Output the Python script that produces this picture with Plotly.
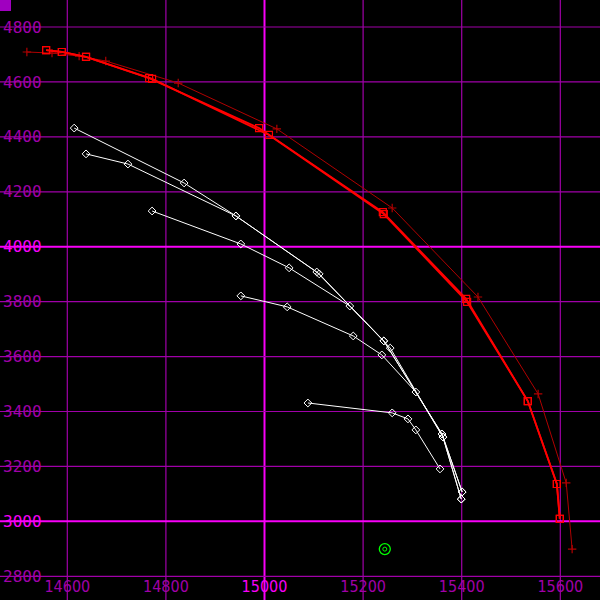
import plotly.graph_objects as go

# ---------------- data ----------------
# dark red "+" series
dk_x = [14518, 14569, 14624, 14678, 14825, 15025, 15259, 15433, 15555, 15612, 15624]
dk_y = [4709, 4705, 4694, 4676, 4596, 4429, 4141, 3817, 3464, 3140, 2899]

# bright red square series (two nearly coincident runs)
r1_x = [14557, 14589, 14638, 14766, 14989, 15240, 15409, 15534, 15593, 15599]
r1_y = [4716, 4709, 4691, 4614, 4432, 4126, 3810, 3438, 3136, 3009]
r2_x = [14557, 14589, 14638, 14772, 15009, 15242, 15411, 15534, 15593, 15599]
r2_y = [4716, 4709, 4691, 4611, 4407, 4119, 3799, 3438, 3136, 3009]

# white diamond series
w1_x = [14614, 14837, 14942, 15106, 15242, 15360, 15401]
w1_y = [4432, 4232, 4112, 3908, 3657, 3318, 3107]
w2_x = [14638, 14723, 14942, 15111, 15255, 15362, 15399]
w2_y = [4338, 4301, 4112, 3901, 3631, 3307, 3081]
w3_x = [14772, 14952, 15050, 15173, 15242, 15360, 15401]
w3_y = [4130, 4010, 3923, 3784, 3657, 3318, 3107]
w4_x = [14952, 15046, 15180, 15238, 15307, 15362, 15399]
w4_y = [3821, 3781, 3675, 3606, 3471, 3307, 3081]
w5_x = [15088, 15259, 15291, 15307, 15356]
w5_y = [3431, 3395, 3373, 3333, 3191]

# green target
g_x = [15244]
g_y = [2899]

# ticks
x_ticks = [14600, 14800, 15000, 15200, 15400, 15600]
y_ticks = [2800, 3000, 3200, 3400, 3600, 3800, 4000, 4200, 4400, 4600, 4800]
x_major = [15000]
y_major = [3000, 4000]

DIM = "#a000a8"
BRIGHT = "#f800f8"

fig = go.Figure()

white_series = [(w1_x, w1_y), (w2_x, w2_y), (w3_x, w3_y), (w4_x, w4_y), (w5_x, w5_y)]
for xs, ys in white_series:
    fig.add_trace(go.Scatter(
        x=xs, y=ys, mode="lines+markers",
        line=dict(color="white", width=1),
        marker=dict(symbol="diamond-open", size=6, color="white", line=dict(width=1, color="white")),
    ))

fig.add_trace(go.Scatter(
    x=dk_x, y=dk_y, mode="lines+markers",
    line=dict(color="#b00000", width=1),
    marker=dict(symbol="cross-thin-open", size=6, color="#b00000", line=dict(width=1.2, color="#b00000")),
))

for xs, ys in [(r1_x, r1_y), (r2_x, r2_y)]:
    fig.add_trace(go.Scatter(
        x=xs, y=ys, mode="lines+markers",
        line=dict(color="#ff0000", width=1.8),
        marker=dict(symbol="square-open", size=7, color="#ff0000", line=dict(width=1.2, color="#ff0000")),
    ))

fig.add_trace(go.Scatter(
    x=g_x, y=g_y, mode="markers",
    marker=dict(symbol="circle-open", size=11, color="#00ff00", line=dict(width=1.3, color="#00ff00")),
))
fig.add_trace(go.Scatter(
    x=g_x, y=g_y, mode="markers",
    marker=dict(symbol="circle-open", size=4, color="#00ff00", line=dict(width=1, color="#00ff00")),
))

# grid lines drawn as shapes (dim every 200, bright at majors)
shapes = []
for v in x_ticks:
    major = v in x_major
    shapes.append(dict(type="line", xref="x", yref="paper", x0=v, x1=v, y0=0, y1=1,
                       line=dict(color=BRIGHT if major else DIM, width=2 if major else 1.2),
                       layer="below"))
for v in y_ticks:
    major = v in y_major
    shapes.append(dict(type="line", xref="paper", yref="y", x0=0, x1=1, y0=v, y1=v,
                       line=dict(color=BRIGHT if major else DIM, width=2 if major else 1.2),
                       layer="below"))
# small purple square at top-left
shapes.append(dict(type="rect", xref="paper", yref="paper", x0=0, x1=11 / 600, y0=1 - 11 / 600, y1=1,
                   fillcolor="#a000c0", line=dict(width=0), layer="above"))


def lab(v, majors):
    s = str(v)
    if v in majors:
        return f'<span style="color:{BRIGHT}">{s}</span>'
    return s


fig.update_layout(
    width=600, height=600,
    margin=dict(l=0, r=0, t=0, b=0),
    paper_bgcolor="black", plot_bgcolor="black",
    showlegend=False,
    shapes=shapes,
    xaxis=dict(
        range=[14463.5, 15680.5],
        tickvals=x_ticks, ticktext=[lab(v, x_major) for v in x_ticks],
        ticklabelposition="inside", ticks="",
        ticklabelstandoff=2,
        showgrid=False,
        zeroline=False, showline=False,
        tickfont=dict(family="Liberation Sans Narrow, DejaVu Sans Condensed, sans-serif", size=16, color=DIM),
    ),
    yaxis=dict(
        range=[2713.7, 4898.3],
        tickvals=y_ticks, ticktext=[lab(v, y_major) for v in y_ticks],
        ticklabelposition="inside", ticks="",
        showgrid=False,
        zeroline=False, showline=False,
        tickfont=dict(family="DejaVu Sans Mono, monospace", size=16, color=DIM),
    ),
)

fig.write_html(
    "out.html",
    config={"displayModeBar": False},
    post_script="document.body.style.margin='0';document.body.style.background='black';",
)
